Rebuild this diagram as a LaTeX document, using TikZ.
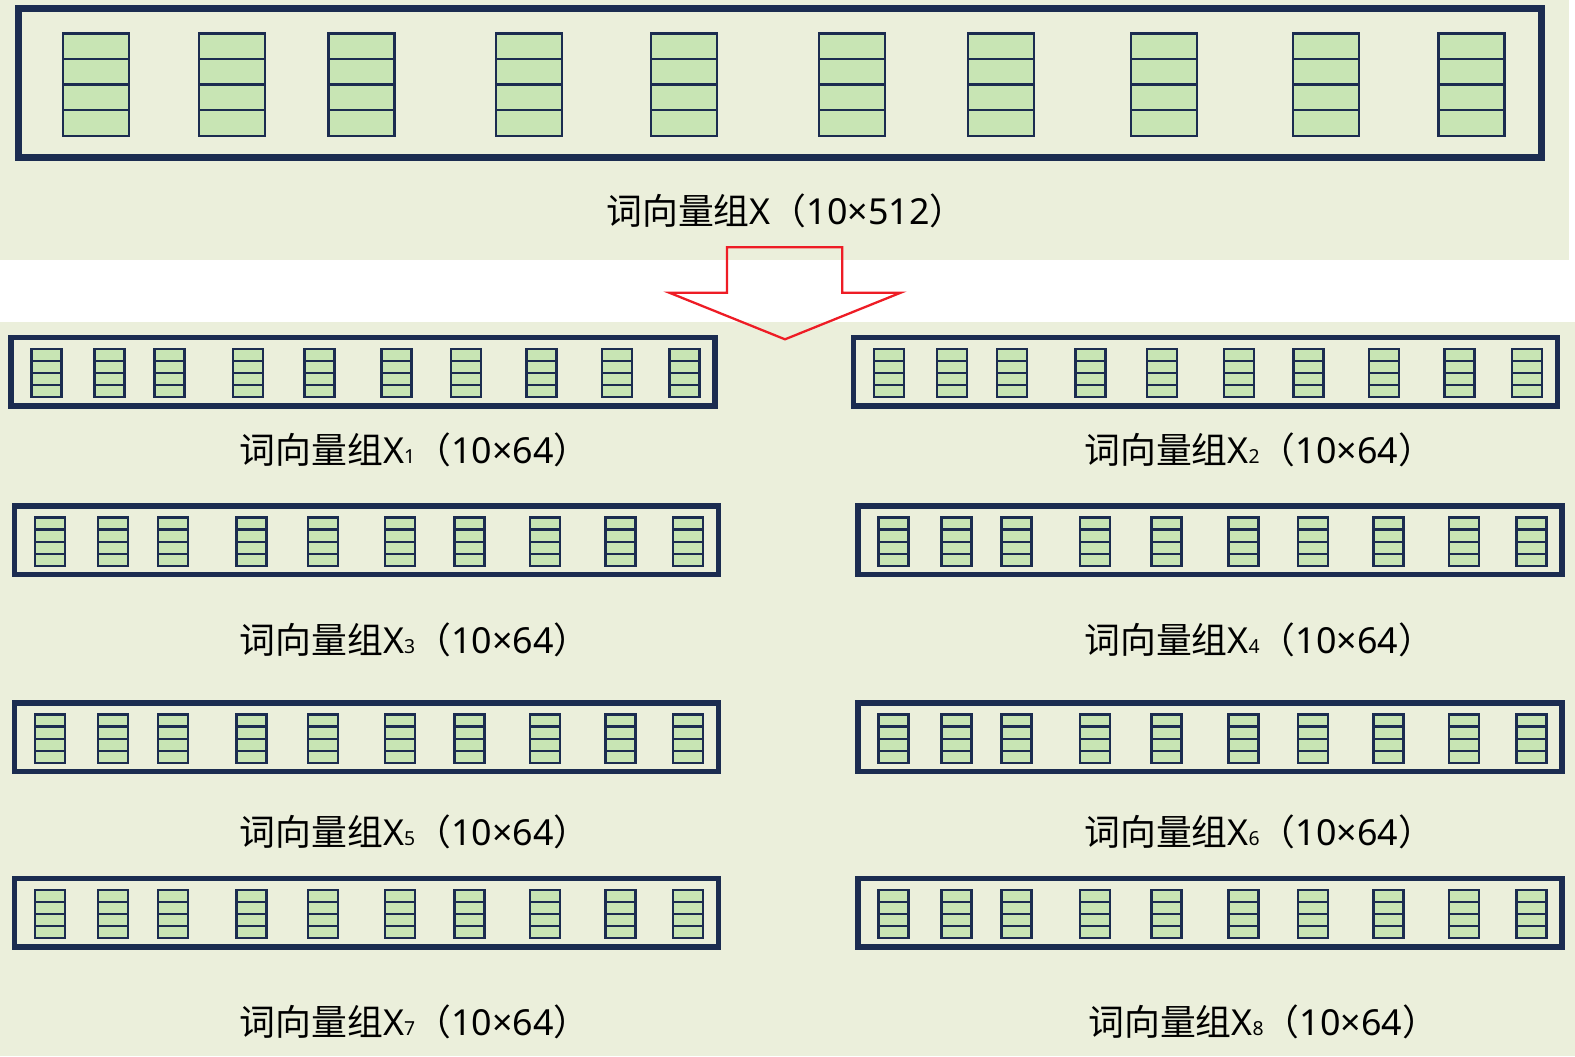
\documentclass[tikz,border=0pt]{standalone}
\usepackage{fontspec}
\setmainfont{Noto Sans CJK SC}
\newfontfamily\latinfont{Noto Sans}
\usepackage{xcolor}
\usetikzlibrary{shapes.multipart}

\definecolor{panel}{HTML}{EBEFDB}
\definecolor{navy}{HTML}{1B2C50}
\definecolor{cellgreen}{HTML}{C8E5B4}
\definecolor{arrowred}{HTML}{EE1C25}

\newcommand{\idx}[1]{{\fontsize{11pt}{12pt}\selectfont #1}}

\begin{document}
\begin{tikzpicture}[
  x=0.02cm, y=-0.02cm,
  font=\fontsize{20.4pt}{24pt}\selectfont,
  bigframe/.style={draw=navy, line width=4pt, inner sep=0pt, outer sep=0pt, anchor=north west,
    minimum width=1523*0.02cm, minimum height=149*0.02cm},
  frame/.style={draw=navy, line width=3.1pt, inner sep=0pt, outer sep=0pt, anchor=north west,
    minimum width=704*0.02cm, minimum height=68.5*0.02cm},
  bigcell/.style={rectangle split, rectangle split parts=4, draw=navy, fill=cellgreen,
    line width=1.3pt, inner sep=0pt, outer sep=0pt, anchor=north west, minimum width=66*0.02cm,
    rectangle split empty part height=0.5cm-0.975pt, rectangle split empty part depth=0pt,
    rectangle split empty part width=0pt},
  cell/.style={rectangle split, rectangle split parts=4, draw=navy, fill=cellgreen,
    line width=1.2pt, inner sep=0pt, outer sep=0pt, anchor=north west, minimum width=30*0.02cm,
    rectangle split empty part height=0.23cm-0.9pt, rectangle split empty part depth=0pt,
    rectangle split empty part width=0pt},
  caption/.style={anchor=west, inner sep=0pt},
  bigarrow/.style={draw=arrowred, line width=1.3pt, line join=miter}
]
% background panels
\fill[white] (0,0) rectangle (1575,1056);
\useasboundingbox (0,0) rectangle (1575,1056);
\fill[panel] (0,0) rectangle (1569,260);
\fill[panel] (0,321.7) rectangle (1575,1056);

% word vectors X (10x512)
\node[bigframe] (frameX) at (18.5,8.5) {};
\foreach \c/\cx in {1/63, 2/199, 3/328.5, 4/496, 5/651, 6/819, 7/968, 8/1131, 9/1293, 10/1438.5}
  \node[bigcell] (vX-\c) at (\cx,33.5) {};
\node[caption] (labelX) at (606,210.5) {词向量组{\latinfont X}（{\latinfont 10×512}）};

% split arrow
\draw[bigarrow] (727,247.3) -- (842.3,247.3) -- (842.3,292.7) -- (900.7,292.7)
  -- (785,339.3) -- (669.3,292.7) -- (727,292.7) -- cycle;

% heads X1 ... X8 (10x64)
\foreach \g/\fx/\fy/\lx/\ly in {1/11/337.5/239.5/450, 2/853.5/337.5/1084/450,
    3/14.5/506/239.5/640, 4/858/506/1084/640,
    5/14.5/703/239.5/832, 6/858/703/1084/832,
    7/14.5/878.5/239.5/1021.5, 8/858/878.5/1088/1021.5} {
  \node[frame] (frame\g) at (\fx,\fy) {};
  \foreach \c/\cx in {1/20.5, 2/83.5, 3/143.5, 4/222, 5/293.5, 6/370.5, 7/440, 8/515.5, 9/591, 10/658.5}
    \node[cell] (v\g-\c) at (\fx+\cx,\fy+11.5) {};
  \node[caption] (label\g) at (\lx,\ly) {词向量组{\latinfont X\idx{\g}}（{\latinfont 10×64}）};
}
\end{tikzpicture}
\end{document}
